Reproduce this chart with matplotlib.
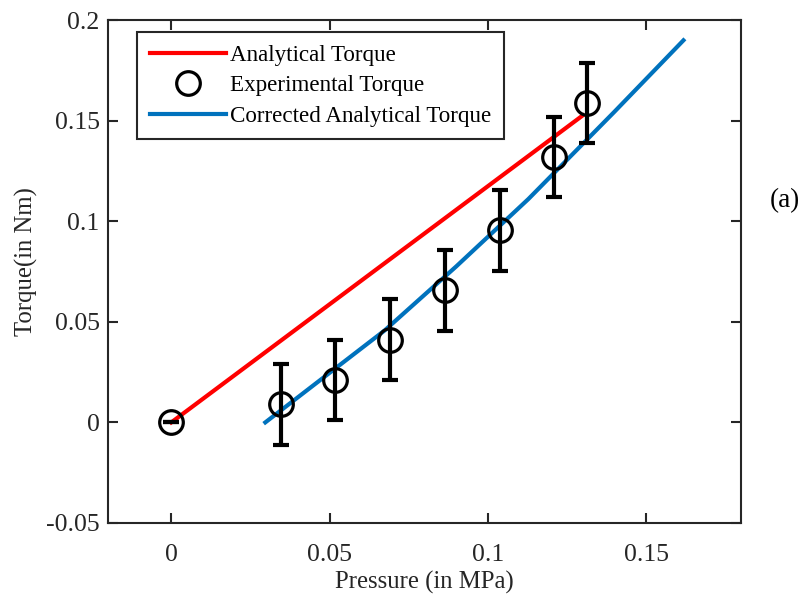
import numpy as np
from matplotlib import pyplot as plt

# analytical torque (straight line)
p_anal = [0.0, 0.130]
t_anal = [0.0, 0.1526]

# experimental torque with error bars
p_exp = [0.0, 0.0347, 0.0518, 0.0692, 0.0864, 0.1038, 0.1209, 0.1312]
t_exp = [0.0, 0.0090, 0.0210, 0.0411, 0.0656, 0.0954, 0.1319, 0.1587]
t_err = [0.0, 0.02, 0.02, 0.02, 0.02, 0.02, 0.02, 0.02]

# corrected analytical torque
p_corr = [0.0297, 0.0485, 0.0674, 0.090, 0.1128, 0.140, 0.1618]
t_corr = [0.0, 0.0228, 0.0457, 0.0775, 0.1110, 0.1544, 0.1899]

plt.rcParams['font.family'] = ['Liberation Serif', 'DejaVu Serif']
fs_tick = 18.5
fs_lab = 17.8
fs_leg = 16.6
dark = '#262626'

fg = plt.figure(figsize=(8.09, 6.01), dpi=100)
ax = fg.add_axes([0.1335, 0.1298, 0.7825, 0.8369])

ax.plot(p_anal, t_anal, color='#ff0000', lw=3, label='Analytical Torque', zorder=3)
ax.errorbar(p_exp, t_exp, yerr=t_err, fmt='none', ecolor='black', elinewidth=3,
            capsize=6, capthick=3, zorder=4)
ax.plot(p_exp, t_exp, 'o', ms=17, mfc='none', mec='black', mew=2.3,
        label='Experimental Torque', zorder=5)
ax.plot(p_corr, t_corr, color='#0072bd', lw=3, label='Corrected Analytical Torque', zorder=3)

ax.set_xlim(-0.02, 0.18)
ax.set_ylim(-0.05, 0.2)
ax.set_xticks([0, 0.05, 0.1, 0.15])
ax.set_xticklabels(['0', '0.05', '0.1', '0.15'])
ax.set_yticks([-0.05, 0, 0.05, 0.1, 0.15, 0.2])
ax.set_yticklabels(['-0.05', '0', '0.05', '0.1', '0.15', '0.2'])
ax.tick_params(direction='in', length=7, width=1.5, top=True, right=True,
               labelsize=fs_tick, colors=dark)
ax.tick_params(axis='x', pad=15)
ax.tick_params(axis='y', pad=6)
for s in ax.spines.values():
    s.set_linewidth(1.5)
    s.set_color(dark)

ax.set_xlabel('Pressure (in MPa)', fontsize=fs_lab, color=dark)
ax.set_ylabel('Torque(in Nm)', fontsize=fs_lab, color=dark)
ax.xaxis.set_label_coords(0.5, -0.095)
ax.yaxis.set_label_coords(-0.11, 0.52)

leg = ax.legend(loc='upper left', bbox_to_anchor=(0.046, 0.976), fontsize=fs_leg,
                frameon=True, fancybox=False, handlelength=3.3, handletextpad=0.2,
                labelspacing=0.4, borderpad=0.55, borderaxespad=0, framealpha=1)
leg.get_frame().set_edgecolor(dark)
leg.get_frame().set_linewidth(1.5)

fg.text(0.952, 0.655, '(a)', fontsize=fs_tick + 1, color='black')

fg.savefig('out.png', dpi=100)
